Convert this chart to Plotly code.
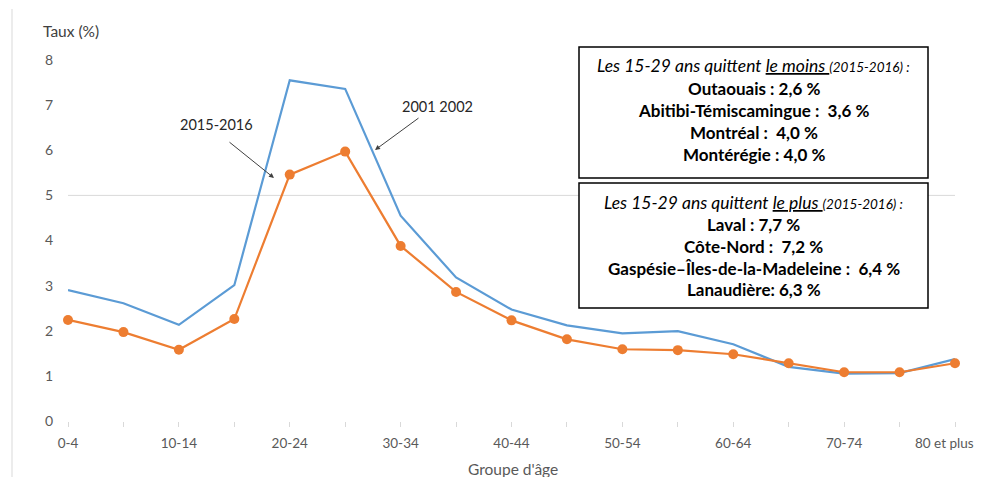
import plotly.graph_objects as go

categories = ["0-4", "5-9", "10-14", "15-19", "20-24", "25-29", "30-34", "35-39",
              "40-44", "45-49", "50-54", "55-59", "60-64", "65-69", "70-74", "75-79", "80 et plus"]
taux_2001_2002 = [2.90, 2.61, 2.13, 3.01, 7.55, 7.36, 4.55, 3.18, 2.47, 2.12, 1.94, 1.99, 1.70, 1.20, 1.05, 1.06, 1.37]
taux_2015_2016 = [2.24, 1.97, 1.58, 2.26, 5.46, 5.97, 3.88, 2.86, 2.23, 1.81, 1.59, 1.57, 1.48, 1.28, 1.08, 1.08, 1.28]
tick_labels = [c if i % 2 == 0 else "" for i, c in enumerate(categories)]

box1_lines = [
    "<i>Les 15-29 ans quittent <u>le moins </u><span style='font-size:13.5px'>(2015-2016) :</span></i>",
    "<b>Outaouais : 2,6 %</b>",
    "<b>Abitibi-Témiscamingue :  3,6 %</b>",
    "<b>Montréal :  4,0 %</b>",
    "<b>Montérégie : 4,0 %</b>",
]
box2_lines = [
    "<i>Les 15-29 ans quittent <u>le plus </u><span style='font-size:13.5px'>(2015-2016) :</span></i>",
    "<b>Laval : 7,7 %</b>",
    "<b>Côte-Nord :  7,2 %</b>",
    "<b>Gaspésie–Îles-de-la-Madeleine :  6,4 %</b>",
    "<b>Lanaudière: 6,3 %</b>",
]

OFF = 8  # page body margin
W, H = 969, 469
# plot area in page pixels: x 68..955, y 60..421
L = 68 - OFF
R = W - (955 - OFF)
T = 60 - OFF
B = H - (421 - OFF)
FONT = "Lato"


def px(xp):
    return (xp - OFF - L) / (W - L - R)


def py(yp):
    return (H - B - (yp - OFF)) / (H - T - B)


x_idx = list(range(len(categories)))

fig = go.Figure()
fig.add_trace(go.Scatter(x=x_idx, y=taux_2001_2002, mode="lines", name="2001-2002",
                         line=dict(color="#5B9BD5", width=2.2), cliponaxis=False))
fig.add_trace(go.Scatter(x=x_idx, y=taux_2015_2016, mode="lines+markers", name="2015-2016",
                         line=dict(color="#ED7D31", width=2.2),
                         marker=dict(color="#ED7D31", size=10), cliponaxis=False))

shapes = []
shapes.append(dict(type="line", xref="x", yref="y", x0=0, x1=len(categories) - 1, y0=5, y1=5,
                   line=dict(color="#d9d9d9", width=1), layer="below"))
shapes.append(dict(type="line", xref="paper", yref="paper", x0=px(12), x1=px(12), y0=py(9), y1=py(477),
                   line=dict(color="#d9d9d9", width=1)))
for (top, bot) in [(47, 178), (183, 308)]:
    shapes.append(dict(type="rect", xref="paper", yref="paper", x0=px(579), x1=px(928), y0=py(bot), y1=py(top),
                       line=dict(color="#000000", width=1.5), fillcolor="white"))

annotations = []
for lines, ys in [(box1_lines, [66, 88, 110, 132, 154]), (box2_lines, [202, 224, 246, 268, 289])]:
    for i, (t, yy) in enumerate(zip(lines, ys)):
        annotations.append(dict(text=t, xref="paper", yref="paper", x=px(753.5), y=py(yy),
                                xanchor="center", yanchor="middle", showarrow=False,
                                font=dict(family=FONT, size=17.5 if i == 0 else 17, color="#000000")))

annotations.append(dict(text="Taux (%)", xref="paper", yref="paper", x=px(41), y=py(31),
                        xanchor="left", yanchor="middle", showarrow=False,
                        font=dict(family=FONT, size=15.5, color="#404040")))
annotations.append(dict(text="2015-2016", xref="paper", yref="paper", x=px(216), y=py(125),
                        xanchor="center", yanchor="middle", showarrow=False,
                        font=dict(family=FONT, size=14.5, color="#262626")))
annotations.append(dict(text="2001 2002", xref="paper", yref="paper", x=px(437), y=py(106),
                        xanchor="center", yanchor="middle", showarrow=False,
                        font=dict(family=FONT, size=14.5, color="#262626")))
annotations.append(dict(text="", xref="paper", yref="paper", x=px(274), y=py(178),
                        ax=228 - 274, ay=141 - 178, showarrow=True, arrowhead=2, arrowsize=1,
                        arrowwidth=1, arrowcolor="#404040"))
annotations.append(dict(text="", xref="paper", yref="paper", x=px(375), y=py(150),
                        ax=420 - 375, ay=117 - 150, showarrow=True, arrowhead=2, arrowsize=1,
                        arrowwidth=1, arrowcolor="#404040"))
annotations.append(dict(text="Groupe d'âge", xref="paper", yref="paper", x=px(513), y=py(469),
                        xanchor="center", yanchor="middle", showarrow=False,
                        font=dict(family=FONT, size=15.5, color="#595959")))
# last category label (sits at the right edge of the picture)
annotations.append(dict(text=tick_labels[-1], xref="paper", yref="paper", x=px(976), y=py(443),
                        xanchor="right", yanchor="middle", showarrow=False,
                        font=dict(family=FONT, size=13.5, color="#595959")))

fig.update_layout(
    width=W, height=H,
    margin=dict(l=L, r=R, t=T, b=B),
    paper_bgcolor="white", plot_bgcolor="white",
    showlegend=False,
    font=dict(family=FONT, size=13, color="#595959"),
    shapes=shapes,
    annotations=annotations,
    xaxis=dict(range=[0, len(categories) - 1], tickvals=x_idx, ticktext=tick_labels[:-1] + [""],
               showgrid=False, zeroline=False, showline=False,
               ticks="outside", ticklen=5, tickcolor="#d9d9d9", tickwidth=1,
               tickfont=dict(family=FONT, size=13.5, color="#595959"), ticklabelstandoff=5),
    yaxis=dict(range=[0, 8], tickvals=list(range(0, 9)), showgrid=False, zeroline=False, showline=False,
               ticks="", tickfont=dict(family=FONT, size=14, color="#595959"), ticklabelstandoff=14),
)

fig.write_html("out.html")
